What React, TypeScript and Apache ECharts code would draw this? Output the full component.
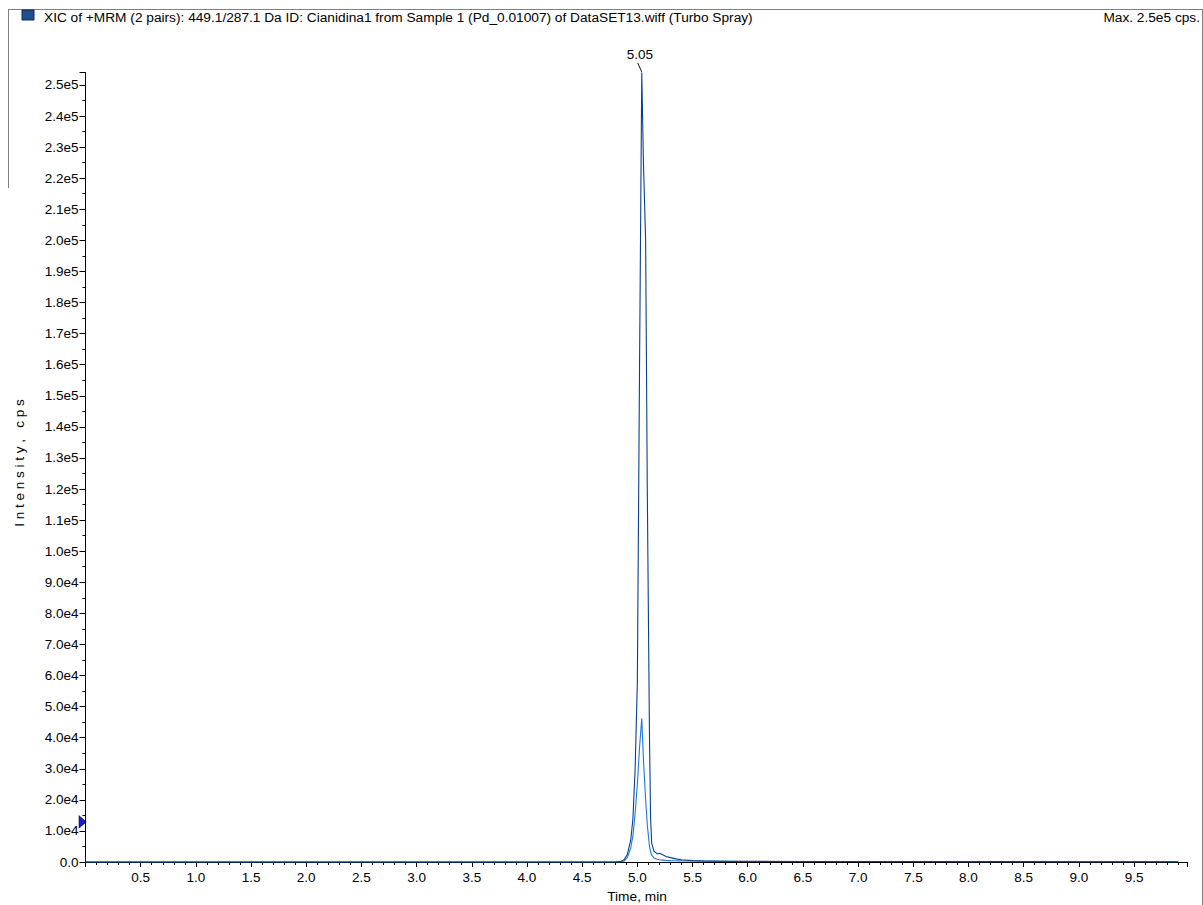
import React, { useEffect, useRef } from "react";
import * as echarts from "echarts";

const TITLE = "XIC of +MRM (2 pairs): 449.1/287.1 Da ID: Cianidina1 from Sample 1 (Pd_0.01007) of DataSET13.wiff (Turbo Spray)";
const MAX_TEXT = "Max. 2.5e5 cps.";
const X_NAME = "Time, min";
const Y_NAME = "I n t e n s i t y ,   c p s";
const PEAK_LABEL = "5.05";
const PEAK_AT = [5.04, 254000];
const THRESHOLD_AT = [0, 12900];

const times = [0, 1, 2, 3, 4, 4.5, 4.8, 4.85, 4.88, 4.91, 4.94, 4.96, 4.98, 5.0, 5.02, 5.04, 5.055, 5.075, 5.09, 5.11, 5.12, 5.13, 5.15, 5.18, 5.2, 5.23, 5.26, 5.3, 5.35, 5.4, 5.5, 5.6, 5.8, 6.0, 6.5, 7.0, 7.5, 8.0, 8.5, 9.0, 9.5, 9.9];
const quantifierValues = [0, 0, 0, 0, 0, 0, 0, 200, 700, 2500, 7000, 14000, 30000, 58000, 160000, 254000, 225000, 200000, 120000, 40000, 14000, 6000, 3500, 2600, 2800, 2300, 1800, 1400, 1000, 700, 450, 350, 250, 200, 150, 150, 150, 120, 120, 100, 100, 100];
const qualifierValues = [0, 0, 0, 0, 0, 0, 0, 0, 300, 1500, 4500, 8500, 15700, 25000, 37000, 46200, 33000, 20000, 12000, 5000, 3200, 2200, 1300, 900, 700, 600, 500, 450, 400, 350, 300, 250, 200, 150, 150, 150, 150, 120, 120, 100, 100, 100];

const X_MIN = 0;
const X_MAX = 9.98;
const X_INTERVAL = 0.5;
const Y_MIN = 0;
const Y_MAX = 254000;
const Y_INTERVAL = 10000;

const DARK = "#0b3f8f";
const LIGHT = "#1c7ade";
const FONT = "'Liberation Sans', Arial, sans-serif";

function yLabel(v: number): string {
  if (v === 0) return "0.0";
  if (v < 100000) return (v / 10000).toFixed(1) + "e4";
  return (v / 100000).toFixed(1) + "e5";
}

export default function App() {
  const ref = useRef<HTMLDivElement>(null);
  useEffect(() => {
    if (!ref.current) return;
    const chart = echarts.init(ref.current, null, { renderer: "svg" });
    const dark = times.map((t, i) => [t, quantifierValues[i]]);
    const light = times.map((t, i) => [t, qualifierValues[i]]);
    chart.setOption({
      animation: false,
      backgroundColor: "#ffffff",
      grid: { left: 85.5, right: 16, top: 72.5, bottom: 43, containLabel: false },
      xAxis: {
        type: "value",
        min: X_MIN,
        max: X_MAX,
        interval: X_INTERVAL,
        axisLine: { show: true, lineStyle: { color: "#000", width: 1 } },
        axisTick: { show: true, length: 5, lineStyle: { color: "#000" } },
        minorTick: { show: true, splitNumber: 5, length: 3, lineStyle: { color: "#000" } },
        splitLine: { show: false },
        axisLabel: {
          color: "#000",
          fontFamily: FONT,
          fontSize: 13.5,
          margin: 8,
          showMaxLabel: false,
          formatter: (v: number) => (v === 0 ? "" : v.toFixed(1)),
        },
      },
      yAxis: {
        type: "value",
        min: Y_MIN,
        max: Y_MAX,
        interval: Y_INTERVAL,
        axisLine: { show: true, lineStyle: { color: "#000", width: 1 } },
        axisTick: { show: true, length: 6, lineStyle: { color: "#000" } },
        minorTick: { show: true, splitNumber: 2, length: 3, lineStyle: { color: "#000" } },
        splitLine: { show: false },
        axisLabel: {
          color: "#000",
          fontFamily: FONT,
          fontSize: 13.5,
          margin: 7,
          showMaxLabel: false,
          formatter: yLabel,
        },
      },
      series: [
        {
          type: "line",
          data: light,
          showSymbol: false,
          symbol: "none",
          lineStyle: { color: LIGHT, width: 1.1 },
          z: 2,
        },
        {
          type: "line",
          data: dark,
          showSymbol: false,
          symbol: "none",
          lineStyle: { color: DARK, width: 1.1 },
          z: 3,
          markPoint: {
            silent: true,
            data: [
              {
                coord: PEAK_AT,
                symbol: "path://M0,0 L4,9",
                symbolSize: [4, 9],
                symbolKeepAspect: false,
                symbolOffset: [-2, -5],
                itemStyle: { color: "none", borderColor: "#000", borderWidth: 1 },
                label: {
                  show: true,
                  position: "top",
                  distance: -2,
                  formatter: PEAK_LABEL,
                  color: "#000",
                  fontFamily: FONT,
                  fontSize: 13.5,
                },
              },
              {
                coord: THRESHOLD_AT,
                symbol: "triangle",
                symbolSize: [12, 7],
                symbolRotate: -90,
                symbolOffset: [-3, 0],
                itemStyle: { color: "#1a1ae6", borderColor: "#101040", borderWidth: 0.8 },
                label: { show: false },
              },
            ],
          },
        },
      ],
      graphic: [
        { type: "line", shape: { x1: 8, y1: 9.5, x2: 1202.5, y2: 9.5 }, style: { stroke: "#808080", lineWidth: 1 } },
        { type: "line", shape: { x1: 8.5, y1: 9, x2: 8.5, y2: 188 }, style: { stroke: "#808080", lineWidth: 1 } },
        { type: "line", shape: { x1: 1202.5, y1: 9, x2: 1202.5, y2: 905 }, style: { stroke: "#808080", lineWidth: 1 } },
        { type: "rect", shape: { x: 22, y: 10, width: 12, height: 10 }, style: { fill: "#1f4f8f", stroke: "#0d2a5a", lineWidth: 1 } },
        {
          type: "text",
          x: 44,
          y: 17,
          style: { text: TITLE, fill: "#000", font: `13.7px ${FONT}`, textAlign: "left", textVerticalAlign: "middle" },
        },
        {
          type: "text",
          x: 1200,
          y: 17,
          style: { text: MAX_TEXT, fill: "#000", font: `13.7px ${FONT}`, textAlign: "right", textVerticalAlign: "middle" },
        },
        {
          type: "text",
          x: 637,
          y: 896,
          style: { text: X_NAME, fill: "#000", font: `13.7px ${FONT}`, textAlign: "center", textVerticalAlign: "middle" },
        },
        {
          type: "text",
          x: 19,
          y: 463,
          rotation: Math.PI / 2,
          style: { text: Y_NAME, fill: "#000", font: `13.5px ${FONT}`, textAlign: "center", textVerticalAlign: "middle" },
        },
      ],
    });
    return () => chart.dispose();
  }, []);
  return (
    <div
      ref={ref}
      style={{ position: "absolute", left: 0, top: 0, width: 1203, height: 905, background: "#fff" }}
    />
  );
}
